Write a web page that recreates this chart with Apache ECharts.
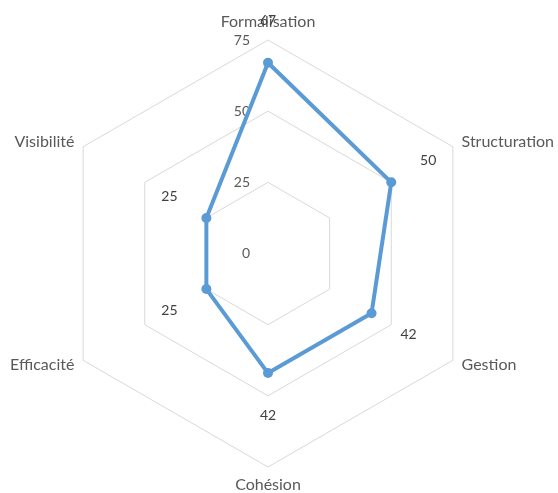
<!DOCTYPE html>
<html>
<head>
<meta charset="utf-8">
<script src="https://cdn.jsdelivr.net/npm/echarts@6/dist/echarts.min.js"></script>
<style>
  html, body { margin: 0; padding: 0; background: #fff; }
  #chart { width: 558px; height: 493px; }
</style>
</head>
<body>
<div id="chart"></div>
<script>
// axes, clockwise from the top
const axes = ['Formalisation', 'Structuration', 'Gestion', 'Cohésion', 'Efficacité', 'Visibilité'];
const scores = [67, 50, 42, 42, 25, 25];
const axisMax = 75;
const labelPad = 15; // data labels sit a bit outside the points

// echarts goes counter-clockwise, so keep the first one and reverse the rest
const order = [0].concat(axes.map((_, i) => i).slice(1).reverse());

const font = 'Lato, "Noto Sans", sans-serif';
const grey = '#595959';

const chart = echarts.init(document.getElementById('chart'));

const option = {
    backgroundColor: '#fff',
    animation: false,
    radar: {
        center: [268, 253.5],
        radius: 213.5,
        startAngle: 90,
        shape: 'polygon',
        splitNumber: 3,
        nameGap: 10,
        axisName: {
            color: grey,
            fontFamily: font,
            fontSize: 16
        },
        axisLine: { show: false },
        axisTick: { show: false },
        axisLabel: { show: false },
        splitArea: { show: false },
        splitLine: {
            lineStyle: { color: '#d9d9d9', width: 1 }
        },
        indicator: order.map((i, k) => {
            const ind = { name: axes[i], min: 0, max: axisMax };
            if (k === 0) {
                ind.axisLabel = {
                    show: true,
                    margin: 18,
                    color: grey,
                    fontFamily: font,
                    fontSize: 14
                };
            }
            return ind;
        })
    },
    series: [{
        name: 'Score',
        type: 'radar',
        symbol: 'circle',
        symbolSize: 10,
        lineStyle: { color: '#5b9bd5', width: 4 },
        itemStyle: { color: '#5b9bd5' },
        data: [{ value: order.map(i => scores[i]) }]
    }, {
        name: 'labels',
        type: 'radar',
        silent: true,
        symbol: 'circle',
        symbolSize: 1,
        lineStyle: { width: 0, opacity: 0 },
        itemStyle: { color: 'rgba(0,0,0,0)' },
        label: {
            show: true,
            position: 'inside',
            color: '#404040',
            fontFamily: font,
            fontSize: 14,
            formatter: p => {
                // map back from the padded value to the real score
                return String(Math.round(p.value - labelPad));
            }
        },
        data: [{ value: order.map(i => scores[i] + labelPad) }]
    }]
};

chart.setOption(option);
</script>
</body>
</html>
